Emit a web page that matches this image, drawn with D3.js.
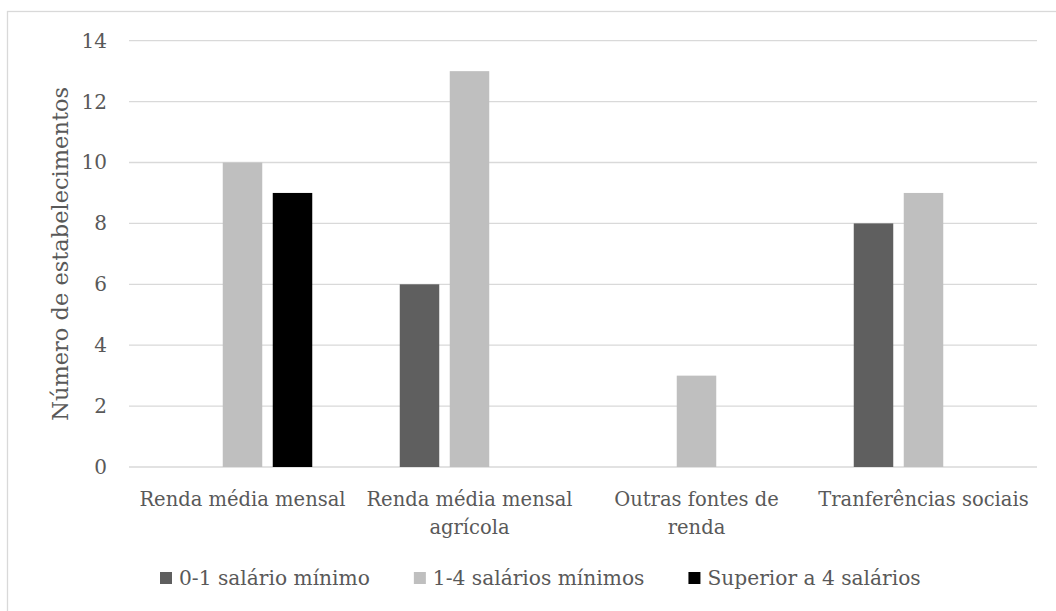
<!DOCTYPE html>
<html>
<head>
<meta charset="utf-8">
<script src="https://cdn.jsdelivr.net/npm/d3@7"></script>
<style>
  html, body { margin: 0; padding: 0; background: #ffffff; }
  svg { display: block; }
  text { font-family: "DejaVu Serif", "Liberation Serif", serif; fill: #595959; }
</style>
</head>
<body>
<svg id="chart" width="1056" height="611"></svg>
<script>
const categories = [
  ["Renda média mensal"],
  ["Renda média mensal", "agrícola"],
  ["Outras fontes de", "renda"],
  ["Tranferências sociais"]
];
const seriesNames = ["0-1 salário mínimo", "1-4 salários mínimos", "Superior a 4 salários"];
const seriesColors = ["#5f5f5f", "#bfbfbf", "#000000"];
const values01 = [0, 6, 0, 8];
const values14 = [10, 13, 3, 9];
const values4plus = [9, 0, 0, 0];
const yTicks = [0, 2, 4, 6, 8, 10, 12, 14];
const yTitle = "Número de estabelecimentos";

const seriesValues = [values01, values14, values4plus];
const svg = d3.select("#chart");
const FS = 19.8;

// outer border
svg.append("rect").attr("x", 7.5).attr("y", 11.5).attr("width", 1100).attr("height", 700)
  .attr("fill", "none").attr("stroke", "#d9d9d9").attr("stroke-width", 1.3);

const pL = 129, pR = 1037, pT = 40.7, pB = 467;
const x0 = d3.scaleBand().domain(d3.range(categories.length)).range([pL, pR]).padding(0);
const groupW = 139.5;
const x1 = d3.scaleBand().domain(d3.range(seriesNames.length)).range([0, groupW]).paddingInner(0.21).paddingOuter(0);
const y = d3.scaleLinear().domain([0, 14]).range([pB, pT]);

// gridlines
svg.append("g").selectAll("line").data(yTicks).join("line")
  .attr("x1", pL).attr("x2", pR)
  .attr("y1", d => y(d)).attr("y2", d => y(d))
  .attr("stroke", "#d9d9d9").attr("stroke-width", 1.3);

// y axis labels
const yAxis = d3.axisLeft(y).tickValues(yTicks).tickSize(0).tickPadding(0);
const yg = svg.append("g").attr("transform", `translate(107,0)`).call(yAxis);
yg.select(".domain").remove();
yg.selectAll("text").attr("font-size", 20).attr("font-family", '"DejaVu Serif", serif').attr("fill", "#595959");

// bars
const rows = [];
categories.forEach((c, i) => seriesValues.forEach((vals, s) => {
  if (vals[i] > 0) rows.push({ i, s, v: vals[i] });
}));
svg.append("g").selectAll("rect").data(rows).join("rect")
  .attr("x", d => x0(d.i) + x0.bandwidth() / 2 - groupW / 2 + x1(d.s))
  .attr("width", x1.bandwidth())
  .attr("y", d => y(d.v))
  .attr("height", d => y(0) - y(d.v))
  .attr("fill", d => seriesColors[d.s]);

// category labels
const cg = svg.append("g");
categories.forEach((lines, i) => {
  const t = cg.append("text").attr("text-anchor", "middle").attr("font-size", 19.5)
    .attr("x", x0(i) + x0.bandwidth() / 2).attr("y", 506);
  lines.forEach((ln, k) => {
    t.append("tspan").attr("x", x0(i) + x0.bandwidth() / 2).attr("dy", k === 0 ? 0 : 27.5).text(ln);
  });
});

// y title
svg.append("text").attr("transform", `translate(68,${(pT + pB) / 2}) rotate(-90)`)
  .attr("text-anchor", "middle").attr("font-size", 22.5).text(yTitle);

// legend
const lg = svg.append("g");
let lx = 160;
seriesNames.forEach((name, s) => {
  lg.append("rect").attr("x", lx).attr("y", 572).attr("width", 12).attr("height", 12).attr("fill", seriesColors[s]);
  const t = lg.append("text").attr("x", lx + 19).attr("y", 585).attr("font-size", 20.2).text(name);
  lx = lx + 19 + t.node().getComputedTextLength() + 44;
});
</script>
</body>
</html>
